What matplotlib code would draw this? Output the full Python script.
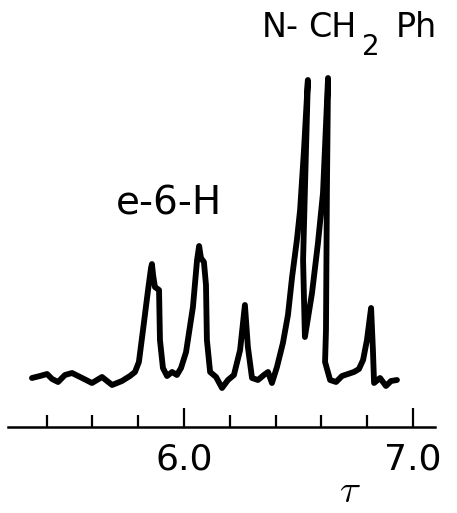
import numpy as np
import matplotlib.pyplot as plt

# trace (tau, pen height above baseline, arbitrary units)
tau = [5.336, 5.371, 5.402, 5.424, 5.450, 5.480, 5.511, 5.555, 5.598, 5.642,
       5.686, 5.729, 5.764, 5.786, 5.803, 5.821, 5.843, 5.856, 5.860, 5.865,
       5.873, 5.891, 5.895, 5.908, 5.926, 5.948, 5.969, 5.987, 6.009, 6.039,
       6.057, 6.066, 6.074, 6.087, 6.096, 6.100, 6.114, 6.140, 6.166, 6.192,
       6.218, 6.245, 6.266, 6.279, 6.297, 6.323, 6.349, 6.367, 6.384, 6.406,
       6.432, 6.454, 6.472, 6.493, 6.507, 6.524, 6.541, 6.528, 6.520, 6.528,
       6.559, 6.585, 6.607, 6.629, 6.624, 6.620, 6.616, 6.638, 6.664, 6.690,
       6.716, 6.742, 6.764, 6.782, 6.799, 6.817, 6.825, 6.830, 6.856, 6.882,
       6.904, 6.930]
height = [0.2, 0.4, 0.6, 0.1, -0.2, 0.5, 0.7, 0.2, -0.3, 0.3,
          -0.5, -0.1, 0.4, 0.8, 1.8, 5.0, 9.0, 11.2, 11.6, 10.5,
          9.3, 9.0, 4.0, 1.2, 0.4, 0.8, 0.5, 1.2, 2.8, 7.3,
          12.0, 13.4, 12.2, 11.8, 9.5, 4.0, 0.8, 0.3, -0.8, 0.0,
          0.5, 3.0, 7.5, 3.3, 0.2, 0.0, 0.5, 0.8, -0.3, 1.3,
          3.7, 6.5, 10.3, 14.0, 17.0, 23.0, 30.0, 19.0, 12.0, 4.3,
          8.7, 13.7, 18.7, 30.2, 18.7, 5.0, 1.8, 0.0, -0.2, 0.4,
          0.6, 0.8, 1.1, 2.0, 4.0, 7.2, 3.0, -0.3, 0.2, -0.6,
          -0.1, 0.0]

major_ticks = [6.0, 7.0]
major_labels = ["6.0", "7.0"]
minor_ticks = [5.4, 5.6, 5.8, 6.2, 6.4, 6.6, 6.8]

W, H = 457, 513
fig = plt.figure(figsize=(W / 100, H / 100), dpi=100)
ax = fig.add_axes([8 / W, 86 / H, 427 / W, 427 / H])

ax.plot(tau, height, color="black", lw=4.2, solid_joinstyle="round",
        solid_capstyle="round")

ax.set_xlim(5.2314, 7.0961)
ax.set_ylim(-4.7, 38.0)

for s in ["top", "left", "right"]:
    ax.spines[s].set_visible(False)
ax.spines["bottom"].set_linewidth(1.8)
ax.set_yticks([])

ax.set_xticks(major_ticks)
ax.set_xticklabels(major_labels, fontsize=26)
ax.set_xticks(minor_ticks, minor=True)
ax.tick_params(axis="x", which="major", direction="in", length=14,
               width=1.6, pad=11)
ax.tick_params(axis="x", which="minor", direction="in", length=8.5,
               width=1.6)

fig.text(169 / W, 1 - 215 / H, "e-6-H", fontsize=28, ha="center",
         va="baseline")
fig.text(262 / W, 1 - 37 / H, "N-", fontsize=24, ha="left", va="baseline")
fig.text(308 / W, 1 - 37 / H, "CH", fontsize=24, ha="left", va="baseline")
fig.text(362 / W, 1 - 55 / H, "2", fontsize=20, ha="left", va="baseline")
fig.text(396 / W, 1 - 37 / H, "Ph", fontsize=24, ha="left", va="baseline")

plt.rcParams["mathtext.fontset"] = "cm"
fig.text(350 / W, 1 - 510 / H, r"$\tau$", fontsize=28, ha="center",
         va="bottom")

fig.savefig("out.png", dpi=100)
